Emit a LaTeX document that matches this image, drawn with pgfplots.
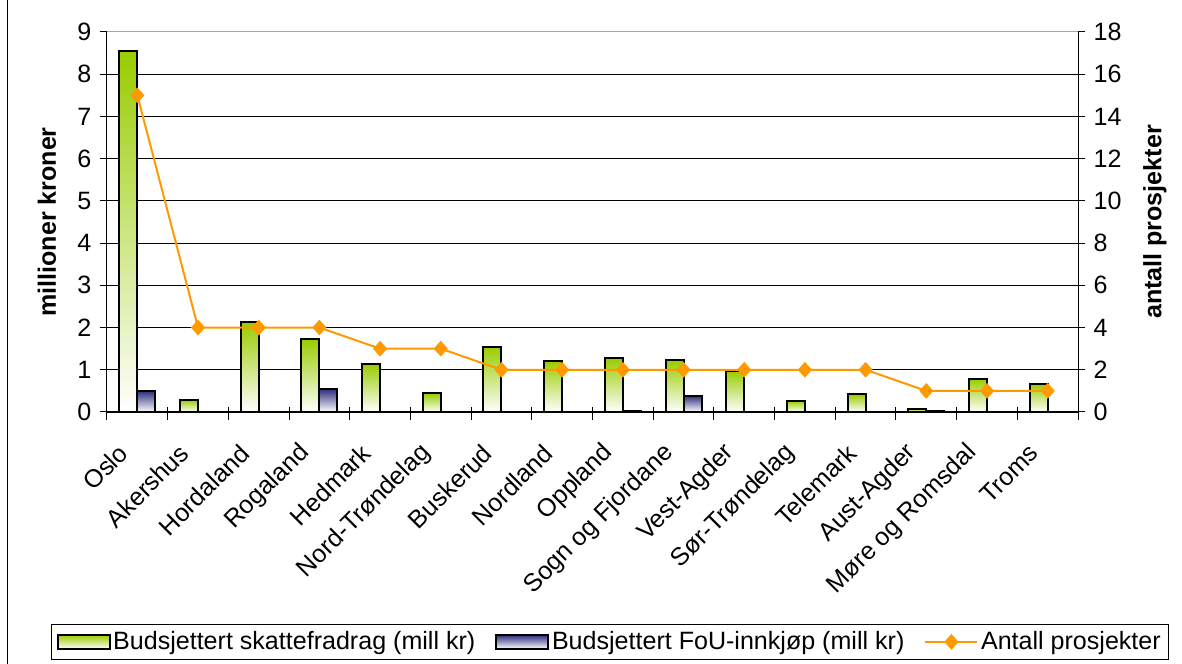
\documentclass[border=0pt]{standalone}
\usepackage{fontspec}
\setmainfont{Liberation Sans}
\usepackage{pgfplots}
\pgfplotsset{compat=1.18}
\definecolor{barg}{RGB}{153,204,0}
\definecolor{barb}{RGB}{45,45,125}
\definecolor{lineo}{RGB}{255,153,0}
\newcommand{\fs}{\fontsize{18.8}{22.5}\selectfont}
\pgfplotsset{
  greenfill/.style={draw=black, line width=1.5pt, top color=barg, bottom color=white},
  bluefill/.style={draw=black, line width=1.5pt, top color=barb, bottom color=white},
  gbar/.style={greenfill, ybar, bar width=13.5pt, bar shift=-6.75pt},
  bbar/.style={bluefill, ybar, bar width=13.5pt, bar shift=6.75pt},
  rectlegend/.style={legend image code/.code={\draw[##1] (0pt,-5.25pt) rectangle (39pt,5.25pt);}},
  linelegend/.style={legend image code/.code={\draw[##1, mark repeat=2, mark phase=2] plot coordinates {(0pt,0pt) (19.5pt,0pt) (39pt,0pt)};}},
}
\begin{document}
\begin{tikzpicture}
\useasboundingbox (0,0) rectangle (886.5pt,498pt);
\draw[black, line width=0.75pt] (5.25pt,0) -- (5.25pt,498pt);
\begin{axis}[
  at={(80.25pt,189pt)}, anchor=south west,
  scale only axis, width=728.25pt, height=285pt,
  xmin=-0.5, xmax=15.5, ymin=0, ymax=9,
  axis lines*=left,
  axis line style={line width=0.75pt},
  ytick={0,...,8},
  extra y ticks={9},
  extra y tick style={grid=major, major grid style={gray!70, line width=0.75pt}},
  ymajorgrids,
  major grid style={black, line width=0.6pt},
  xtick={0,...,15},
  xticklabels={Oslo,Akershus,Hordaland,Rogaland,Hedmark,Nord-Trøndelag,Buskerud,Nordland,Oppland,Sogn og Fjordane,Vest-Agder,Sør-Trøndelag,Telemark,Aust-Agder,Møre og Romsdal,Troms},
  major x tick style={draw=none},
  minor xtick={-0.5,0.5,...,15.5},
  minor x tick style={black, line width=0.75pt, yshift=3.75pt},
  minor tick length=9.75pt,
  major tick length=5.25pt,
  tick align=outside,
  y tick style={black, line width=0.75pt},
  ticklabel style={font=\fs},
  /pgf/number format/assume math mode=true,
  xticklabel style={xshift=-8pt, yshift=-20pt, rotate=45, anchor=east},
  yticklabel style={xshift=-3pt},
  every axis y label/.style={at={(axis description cs:-0.0618,0.5)}, rotate=90, anchor=center},
  ylabel={\fs\bfseries millioner kroner},
]
\addplot[gbar] coordinates {(0,8.55)};
\addplot[gbar] coordinates {(1,0.29)};
\addplot[gbar] coordinates {(2,2.12)};
\addplot[gbar] coordinates {(3,1.74)};
\addplot[gbar] coordinates {(4,1.13)};
\addplot[gbar] coordinates {(5,0.44)};
\addplot[gbar] coordinates {(6,1.55)};
\addplot[gbar] coordinates {(7,1.20)};
\addplot[gbar] coordinates {(8,1.28)};
\addplot[gbar] coordinates {(9,1.22)};
\addplot[gbar] coordinates {(10,0.97)};
\addplot[gbar] coordinates {(11,0.27)};
\addplot[gbar] coordinates {(12,0.42)};
\addplot[gbar] coordinates {(13,0.08)};
\addplot[gbar] coordinates {(14,0.79)};
\addplot[gbar] coordinates {(15,0.66)};
\addplot[bbar] coordinates {(0,0.50)};
\addplot[bbar] coordinates {(3,0.55)};
\addplot[bbar] coordinates {(8,0.02)};
\addplot[bbar] coordinates {(9,0.39)};
\addplot[bbar] coordinates {(13,0.02)};
\end{axis}
\begin{axis}[
  at={(80.25pt,189pt)}, anchor=south west,
  scale only axis, width=728.25pt, height=285pt,
  xmin=-0.5, xmax=15.5, ymin=0, ymax=18,
  axis y line*=right, axis x line=none,
  axis line style={line width=0.75pt},
  ytick={0,2,...,18},
  tick align=outside, major tick length=5.25pt,
  y tick style={black, line width=0.75pt},
  ticklabel style={font=\fs},
  /pgf/number format/assume math mode=true,
  yticklabel style={xshift=3pt},
  every axis y label/.style={at={(axis description cs:1.0793,0.5)}, rotate=90, anchor=center},
  ylabel={\fs\bfseries antall prosjekter},
  legend columns=3,
  legend style={at={(0.518,-0.605)}, anchor=center, draw=black, line width=0.75pt,
    font=\fs, inner xsep=4pt, inner ysep=3.5pt,
    /tikz/every even column/.append style={column sep=13pt}},
]
\addlegendimage{greenfill, rectlegend}
\addlegendentry{Budsjettert skattefradrag (mill kr)}
\addlegendimage{bluefill, rectlegend}
\addlegendentry{Budsjettert FoU-innkjøp (mill kr)}
\addplot[lineo, line width=1.5pt, mark=diamond*, mark size=5.5pt, mark options={solid, fill=lineo, draw=lineo, line width=0.5pt, xscale=1.2}, linelegend]
  coordinates {(0,15) (1,4) (2,4) (3,4) (4,3) (5,3) (6,2) (7,2) (8,2) (9,2) (10,2) (11,2) (12,2) (13,1) (14,1) (15,1)};
\addlegendentry{Antall prosjekter}
\end{axis}
\end{tikzpicture}
\end{document}
